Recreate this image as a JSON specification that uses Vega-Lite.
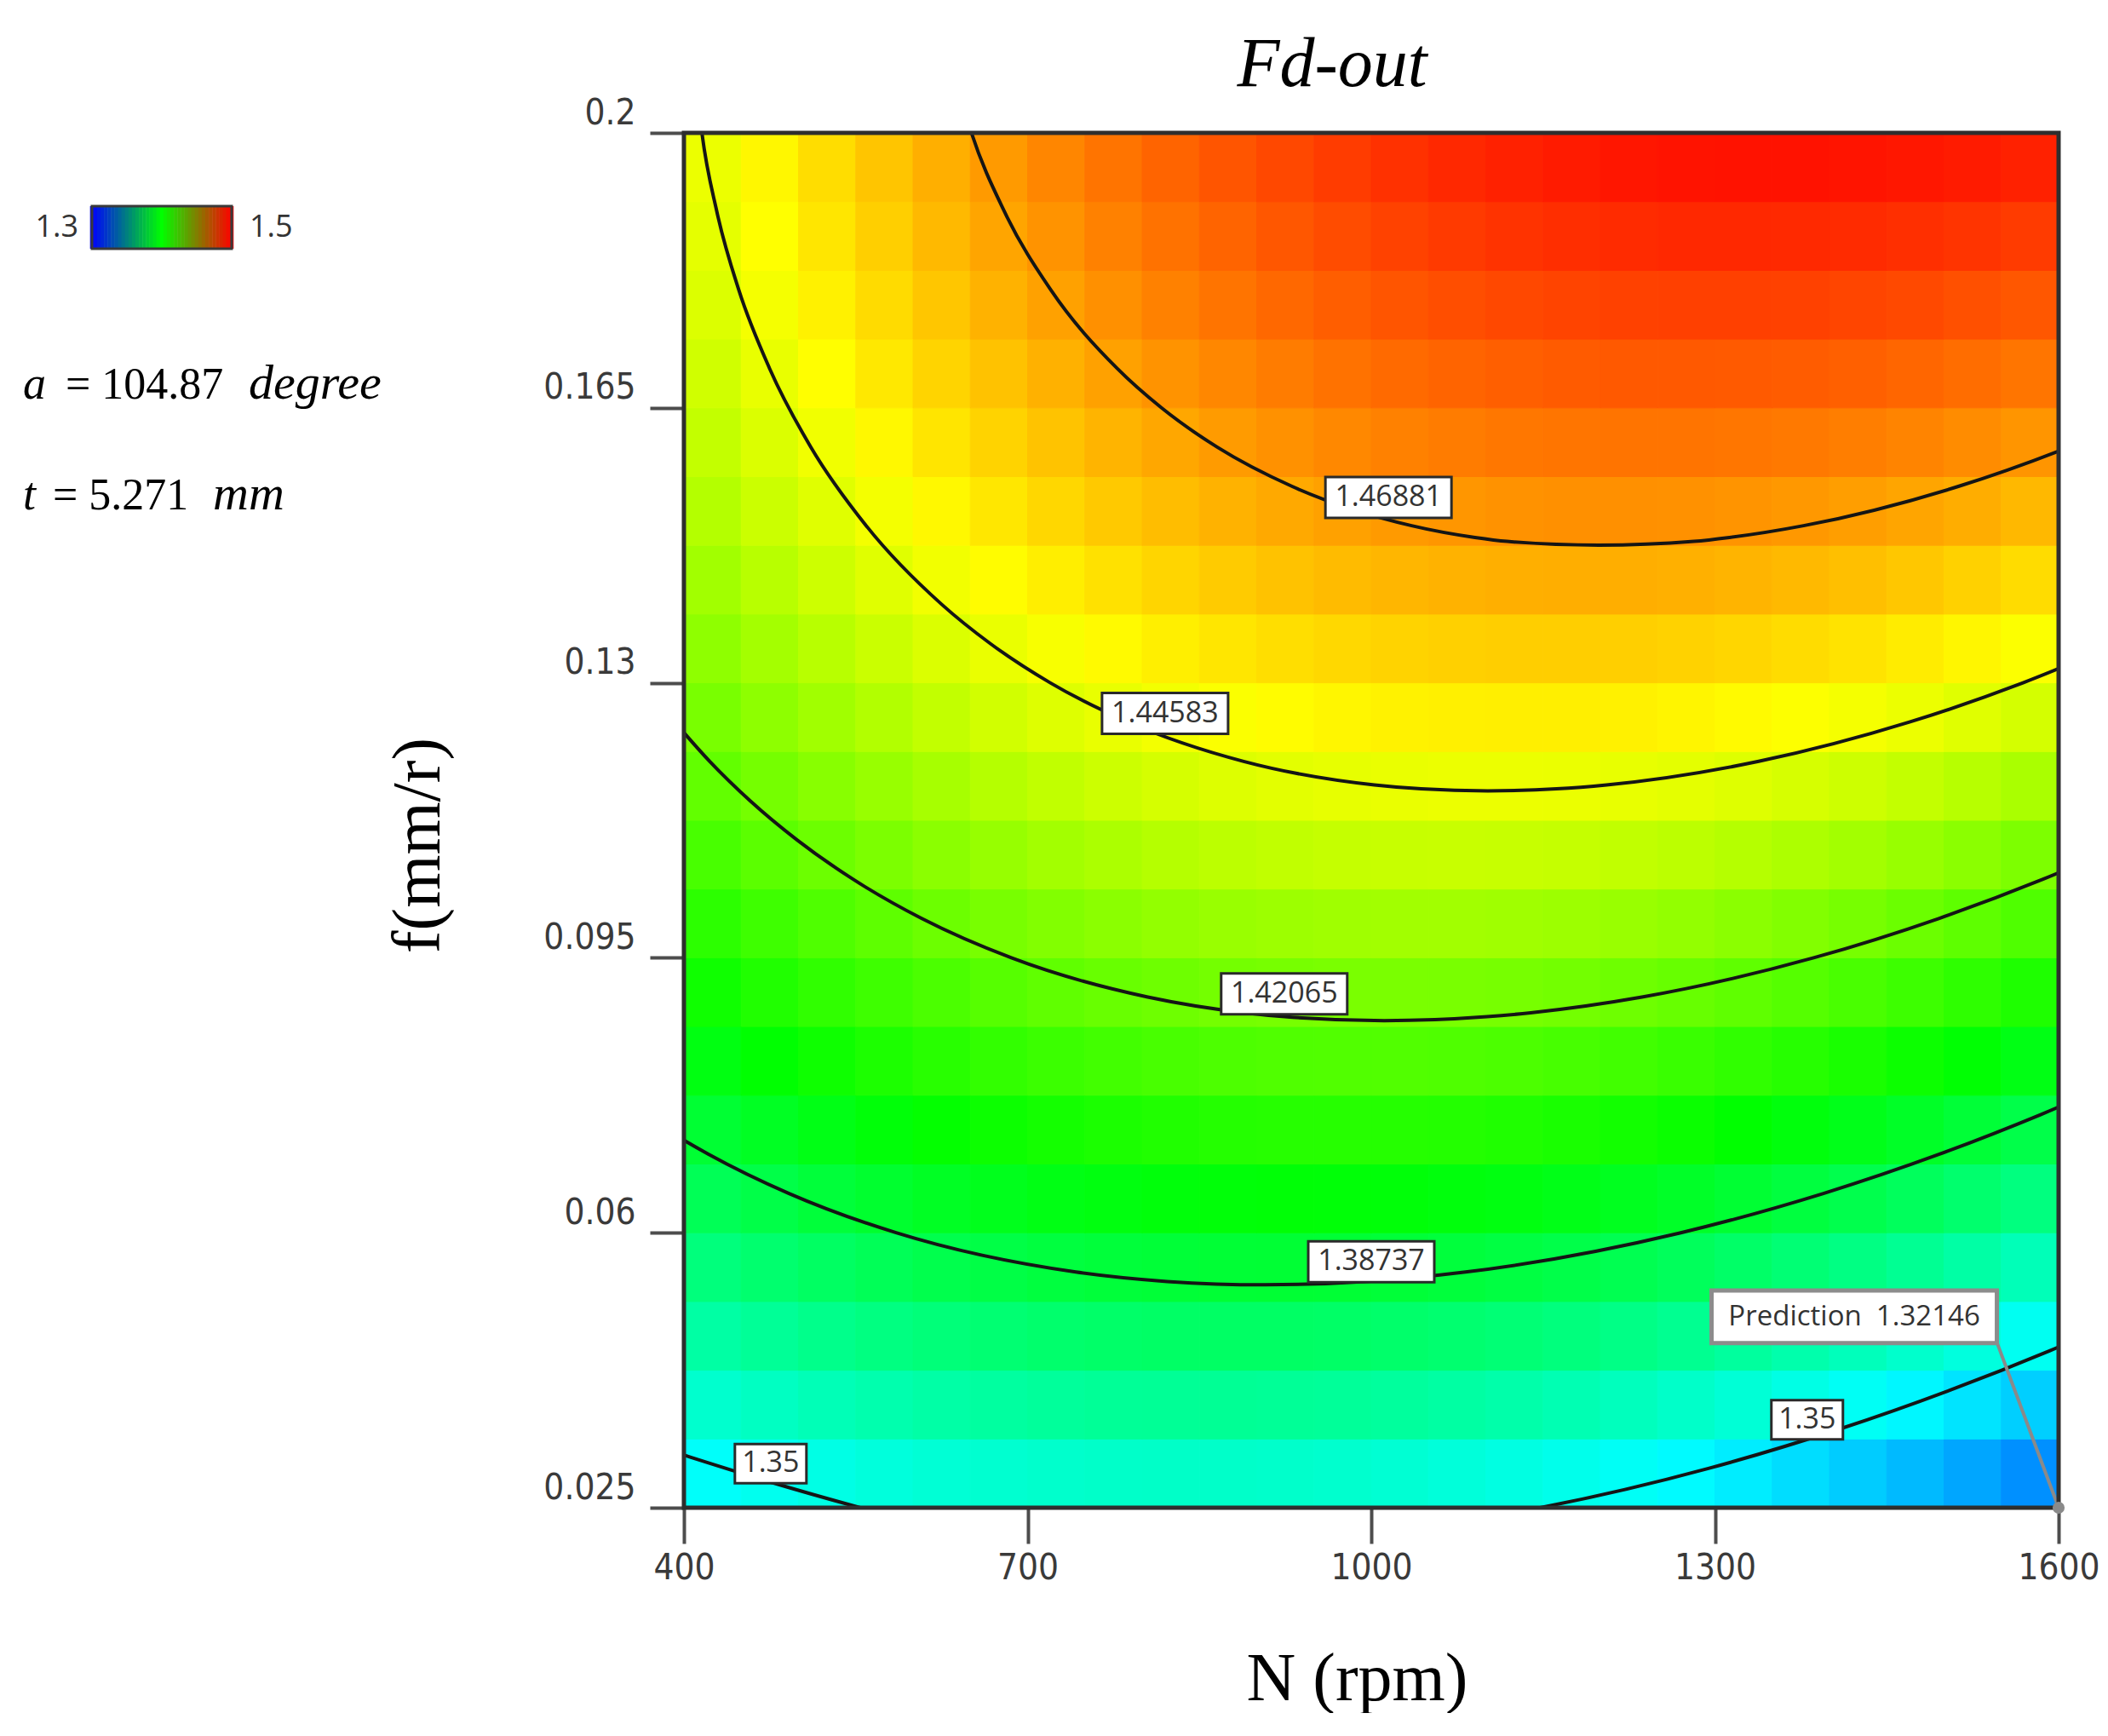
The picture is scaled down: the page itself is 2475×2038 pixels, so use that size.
{
  "$schema": "https://vega.github.io/schema/vega-lite/v6.json",
  "background": "white",
  "padding": {"left": 0, "top": 35, "right": 0, "bottom": 0},
  "bounds": "flush",
  "spacing": 333,
  "resolve": {"scale": {"x": "independent", "y": "independent", "color": "independent"}},
  "config": {"view": {"stroke": null}},
  "hconcat": [
    {
      "width": 470,
      "height": 500,
      "view": {"stroke": null},
      "layer": [
        {
          "data": {"values": [{"v":1.3},{"v":1.305},{"v":1.31},{"v":1.315},{"v":1.32},{"v":1.325},{"v":1.33},{"v":1.335},{"v":1.34},{"v":1.345},{"v":1.35},{"v":1.355},{"v":1.36},{"v":1.365},{"v":1.37},{"v":1.375},{"v":1.38},{"v":1.385},{"v":1.39},{"v":1.395},{"v":1.4},{"v":1.405},{"v":1.41},{"v":1.415},{"v":1.42},{"v":1.425},{"v":1.43},{"v":1.435},{"v":1.44},{"v":1.445},{"v":1.45},{"v":1.455},{"v":1.46},{"v":1.465},{"v":1.47},{"v":1.475},{"v":1.48},{"v":1.485},{"v":1.49},{"v":1.495},{"v":1.5}]},
          "mark": {"type": "rule", "strokeWidth": 4.6},
          "encoding": {
            "x": {"field": "v", "type": "quantitative", "scale": {"domain": [1.3, 1.5], "range": [108, 272], "zero": false, "nice": false}, "axis": null},
            "y": {"datum": 86, "type": "quantitative", "scale": {"domain": [0, 500], "reverse": true, "zero": false, "nice": false}, "axis": null},
            "y2": {"datum": 136},
            "color": {"field": "v", "type": "quantitative", "scale": {"domain": [1.3, 1.4, 1.5], "range": ["#0000ff", "#00ff00", "#ff0000"], "interpolate": "rgb"}, "legend": null}
          }
        },
        {
          "data": {"values": [{}]},
          "mark": {"type": "rect", "fill": "transparent", "stroke": "#3a3a3a", "strokeWidth": 3},
          "encoding": {"x": {"datum": 1.3}, "x2": {"datum": 1.5}, "y": {"datum": 86}, "y2": {"datum": 136}}
        },
        {
          "data": {"values": [{}]},
          "mark": {"type": "text", "font": "Open Sans", "fontSize": 36, "color": "#333333", "align": "right", "baseline": "middle"},
          "encoding": {"x": {"datum": 1.2805}, "y": {"datum": 111}, "text": {"value": "1.3"}}
        },
        {
          "data": {"values": [{}]},
          "mark": {"type": "text", "font": "Open Sans", "fontSize": 36, "color": "#333333", "align": "left", "baseline": "middle"},
          "encoding": {"x": {"datum": 1.5256}, "y": {"datum": 111}, "text": {"value": "1.5"}}
        },
        {
          "data": {"values": [{}]},
          "mark": {"type": "text", "font": "Liberation Serif", "fontSize": 54, "fontStyle": "italic", "color": "#000000", "align": "left", "baseline": "alphabetic"},
          "encoding": {"x": {"datum": 1.2012}, "y": {"datum": 312}, "text": {"value": "a"}}
        },
        {
          "data": {"values": [{}]},
          "mark": {"type": "text", "font": "Liberation Serif", "fontSize": 52, "color": "#000000", "align": "left", "baseline": "alphabetic"},
          "encoding": {"x": {"datum": 1.2622}, "y": {"datum": 312}, "text": {"value": "= 104.87"}}
        },
        {
          "data": {"values": [{}]},
          "mark": {"type": "text", "font": "Liberation Serif", "fontSize": 58, "fontStyle": "italic", "color": "#000000", "align": "left", "baseline": "alphabetic"},
          "encoding": {"x": {"datum": 1.5244}, "y": {"datum": 312}, "text": {"value": "degree"}}
        },
        {
          "data": {"values": [{}]},
          "mark": {"type": "text", "font": "Liberation Serif", "fontSize": 54, "fontStyle": "italic", "color": "#000000", "align": "left", "baseline": "alphabetic"},
          "encoding": {"x": {"datum": 1.2012}, "y": {"datum": 442}, "text": {"value": "t"}}
        },
        {
          "data": {"values": [{}]},
          "mark": {"type": "text", "font": "Liberation Serif", "fontSize": 52, "color": "#000000", "align": "left", "baseline": "alphabetic"},
          "encoding": {"x": {"datum": 1.2439}, "y": {"datum": 442}, "text": {"value": "= 5.271"}}
        },
        {
          "data": {"values": [{}]},
          "mark": {"type": "text", "font": "Liberation Serif", "fontSize": 58, "fontStyle": "italic", "color": "#000000", "align": "left", "baseline": "alphabetic"},
          "encoding": {"x": {"datum": 1.4732}, "y": {"datum": 442}, "text": {"value": "mm"}}
        }
      ]
    },
    {
      "width": 1614,
      "height": 1614,
      "view": {"stroke": null},
      "title": {"text": "Fd-out", "font": "Liberation Serif", "fontStyle": "italic", "fontWeight": "normal", "fontSize": 82, "color": "#000000", "anchor": "middle", "frame": "group", "baseline": "alphabetic", "offset": 12, "dx": -46, "dy": 84},
      "resolve": {"scale": {"x": "independent", "y": "independent"}},
      "layer": [
        {
          "data": {"values": [
{"N":425,"f":0.029375,"F":1.35095},{"N":475,"f":0.029375,"F":1.35321},{"N":525,"f":0.029375,"F":1.35518},{"N":575,"f":0.029375,"F":1.35685},{"N":625,"f":0.029375,"F":1.35822},{"N":675,"f":0.029375,"F":1.3593},{"N":725,"f":0.029375,"F":1.36008},{"N":775,"f":0.029375,"F":1.36057},{"N":825,"f":0.029375,"F":1.36077},{"N":875,"f":0.029375,"F":1.36067},{"N":925,"f":0.029375,"F":1.36027},{"N":975,"f":0.029375,"F":1.35958},{"N":1025,"f":0.029375,"F":1.35859},{"N":1075,"f":0.029375,"F":1.35731},{"N":1125,"f":0.029375,"F":1.35574},{"N":1175,"f":0.029375,"F":1.35387},{"N":1225,"f":0.029375,"F":1.3517},{"N":1275,"f":0.029375,"F":1.34924},{"N":1325,"f":0.029375,"F":1.34648},{"N":1375,"f":0.029375,"F":1.34343},{"N":1425,"f":0.029375,"F":1.34009},{"N":1475,"f":0.029375,"F":1.33645},{"N":1525,"f":0.029375,"F":1.33251},{"N":1575,"f":0.029375,"F":1.32828},
{"N":425,"f":0.038125,"F":1.35958},{"N":475,"f":0.038125,"F":1.362},{"N":525,"f":0.038125,"F":1.36412},{"N":575,"f":0.038125,"F":1.36595},{"N":625,"f":0.038125,"F":1.36748},{"N":675,"f":0.038125,"F":1.36872},{"N":725,"f":0.038125,"F":1.36967},{"N":775,"f":0.038125,"F":1.37031},{"N":825,"f":0.038125,"F":1.37067},{"N":875,"f":0.038125,"F":1.37073},{"N":925,"f":0.038125,"F":1.37049},{"N":975,"f":0.038125,"F":1.36996},{"N":1025,"f":0.038125,"F":1.36913},{"N":1075,"f":0.038125,"F":1.36801},{"N":1125,"f":0.038125,"F":1.3666},{"N":1175,"f":0.038125,"F":1.36489},{"N":1225,"f":0.038125,"F":1.36288},{"N":1275,"f":0.038125,"F":1.36058},{"N":1325,"f":0.038125,"F":1.35798},{"N":1375,"f":0.038125,"F":1.35509},{"N":1425,"f":0.038125,"F":1.35191},{"N":1475,"f":0.038125,"F":1.34843},{"N":1525,"f":0.038125,"F":1.34465},{"N":1575,"f":0.038125,"F":1.34058},
{"N":425,"f":0.046875,"F":1.36779},{"N":475,"f":0.046875,"F":1.37037},{"N":525,"f":0.046875,"F":1.37265},{"N":575,"f":0.046875,"F":1.37464},{"N":625,"f":0.046875,"F":1.37634},{"N":675,"f":0.046875,"F":1.37774},{"N":725,"f":0.046875,"F":1.37884},{"N":775,"f":0.046875,"F":1.37965},{"N":825,"f":0.046875,"F":1.38016},{"N":875,"f":0.046875,"F":1.38038},{"N":925,"f":0.046875,"F":1.38031},{"N":975,"f":0.046875,"F":1.37993},{"N":1025,"f":0.046875,"F":1.37927},{"N":1075,"f":0.046875,"F":1.37831},{"N":1125,"f":0.046875,"F":1.37705},{"N":1175,"f":0.046875,"F":1.3755},{"N":1225,"f":0.046875,"F":1.37365},{"N":1275,"f":0.046875,"F":1.37151},{"N":1325,"f":0.046875,"F":1.36908},{"N":1375,"f":0.046875,"F":1.36635},{"N":1425,"f":0.046875,"F":1.36332},{"N":1475,"f":0.046875,"F":1.36},{"N":1525,"f":0.046875,"F":1.35638},{"N":1575,"f":0.046875,"F":1.35247},
{"N":425,"f":0.055625,"F":1.37562},{"N":475,"f":0.055625,"F":1.37836},{"N":525,"f":0.055625,"F":1.3808},{"N":575,"f":0.055625,"F":1.38295},{"N":625,"f":0.055625,"F":1.38481},{"N":675,"f":0.055625,"F":1.38636},{"N":725,"f":0.055625,"F":1.38763},{"N":775,"f":0.055625,"F":1.3886},{"N":825,"f":0.055625,"F":1.38927},{"N":875,"f":0.055625,"F":1.38965},{"N":925,"f":0.055625,"F":1.38973},{"N":975,"f":0.055625,"F":1.38952},{"N":1025,"f":0.055625,"F":1.38902},{"N":1075,"f":0.055625,"F":1.38821},{"N":1125,"f":0.055625,"F":1.38712},{"N":1175,"f":0.055625,"F":1.38573},{"N":1225,"f":0.055625,"F":1.38404},{"N":1275,"f":0.055625,"F":1.38206},{"N":1325,"f":0.055625,"F":1.37978},{"N":1375,"f":0.055625,"F":1.37721},{"N":1425,"f":0.055625,"F":1.37435},{"N":1475,"f":0.055625,"F":1.37119},{"N":1525,"f":0.055625,"F":1.36773},{"N":1575,"f":0.055625,"F":1.36398},
{"N":425,"f":0.064375,"F":1.38304},{"N":475,"f":0.064375,"F":1.38594},{"N":525,"f":0.064375,"F":1.38854},{"N":575,"f":0.064375,"F":1.39085},{"N":625,"f":0.064375,"F":1.39286},{"N":675,"f":0.064375,"F":1.39458},{"N":725,"f":0.064375,"F":1.396},{"N":775,"f":0.064375,"F":1.39713},{"N":825,"f":0.064375,"F":1.39796},{"N":875,"f":0.064375,"F":1.3985},{"N":925,"f":0.064375,"F":1.39875},{"N":975,"f":0.064375,"F":1.39869},{"N":1025,"f":0.064375,"F":1.39835},{"N":1075,"f":0.064375,"F":1.3977},{"N":1125,"f":0.064375,"F":1.39677},{"N":1175,"f":0.064375,"F":1.39554},{"N":1225,"f":0.064375,"F":1.39401},{"N":1275,"f":0.064375,"F":1.39219},{"N":1325,"f":0.064375,"F":1.39007},{"N":1375,"f":0.064375,"F":1.38766},{"N":1425,"f":0.064375,"F":1.38495},{"N":1475,"f":0.064375,"F":1.38195},{"N":1525,"f":0.064375,"F":1.37865},{"N":1575,"f":0.064375,"F":1.37506},
{"N":425,"f":0.073125,"F":1.39007},{"N":475,"f":0.073125,"F":1.39312},{"N":525,"f":0.073125,"F":1.39589},{"N":575,"f":0.073125,"F":1.39835},{"N":625,"f":0.073125,"F":1.40053},{"N":675,"f":0.073125,"F":1.40241},{"N":725,"f":0.073125,"F":1.40399},{"N":775,"f":0.073125,"F":1.40528},{"N":825,"f":0.073125,"F":1.40627},{"N":875,"f":0.073125,"F":1.40697},{"N":925,"f":0.073125,"F":1.40737},{"N":975,"f":0.073125,"F":1.40748},{"N":1025,"f":0.073125,"F":1.40729},{"N":1075,"f":0.073125,"F":1.40681},{"N":1125,"f":0.073125,"F":1.40603},{"N":1175,"f":0.073125,"F":1.40496},{"N":1225,"f":0.073125,"F":1.40359},{"N":1275,"f":0.073125,"F":1.40193},{"N":1325,"f":0.073125,"F":1.39997},{"N":1375,"f":0.073125,"F":1.39772},{"N":1425,"f":0.073125,"F":1.39517},{"N":1475,"f":0.073125,"F":1.39233},{"N":1525,"f":0.073125,"F":1.3892},{"N":1575,"f":0.073125,"F":1.38576},
{"N":425,"f":0.081875,"F":1.39668},{"N":475,"f":0.081875,"F":1.3999},{"N":525,"f":0.081875,"F":1.40283},{"N":575,"f":0.081875,"F":1.40545},{"N":625,"f":0.081875,"F":1.40779},{"N":675,"f":0.081875,"F":1.40982},{"N":725,"f":0.081875,"F":1.41157},{"N":775,"f":0.081875,"F":1.41301},{"N":825,"f":0.081875,"F":1.41417},{"N":875,"f":0.081875,"F":1.41503},{"N":925,"f":0.081875,"F":1.41559},{"N":975,"f":0.081875,"F":1.41586},{"N":1025,"f":0.081875,"F":1.41583},{"N":1075,"f":0.081875,"F":1.41551},{"N":1125,"f":0.081875,"F":1.41489},{"N":1175,"f":0.081875,"F":1.41398},{"N":1225,"f":0.081875,"F":1.41277},{"N":1275,"f":0.081875,"F":1.41127},{"N":1325,"f":0.081875,"F":1.40947},{"N":1375,"f":0.081875,"F":1.40738},{"N":1425,"f":0.081875,"F":1.40499},{"N":1475,"f":0.081875,"F":1.40231},{"N":1525,"f":0.081875,"F":1.39933},{"N":1575,"f":0.081875,"F":1.39606},
{"N":425,"f":0.090625,"F":1.4029},{"N":475,"f":0.090625,"F":1.40627},{"N":525,"f":0.090625,"F":1.40936},{"N":575,"f":0.090625,"F":1.41215},{"N":625,"f":0.090625,"F":1.41464},{"N":675,"f":0.090625,"F":1.41684},{"N":725,"f":0.090625,"F":1.41874},{"N":775,"f":0.090625,"F":1.42035},{"N":825,"f":0.090625,"F":1.42166},{"N":875,"f":0.090625,"F":1.42268},{"N":925,"f":0.090625,"F":1.4234},{"N":975,"f":0.090625,"F":1.42383},{"N":1025,"f":0.090625,"F":1.42396},{"N":1075,"f":0.090625,"F":1.4238},{"N":1125,"f":0.090625,"F":1.42334},{"N":1175,"f":0.090625,"F":1.42259},{"N":1225,"f":0.090625,"F":1.42154},{"N":1275,"f":0.090625,"F":1.4202},{"N":1325,"f":0.090625,"F":1.41856},{"N":1375,"f":0.090625,"F":1.41663},{"N":1425,"f":0.090625,"F":1.4144},{"N":1475,"f":0.090625,"F":1.41188},{"N":1525,"f":0.090625,"F":1.40906},{"N":1575,"f":0.090625,"F":1.40595},
{"N":425,"f":0.099375,"F":1.40871},{"N":475,"f":0.099375,"F":1.41225},{"N":525,"f":0.099375,"F":1.41549},{"N":575,"f":0.099375,"F":1.41844},{"N":625,"f":0.099375,"F":1.42109},{"N":675,"f":0.099375,"F":1.42345},{"N":725,"f":0.099375,"F":1.42551},{"N":775,"f":0.099375,"F":1.42728},{"N":825,"f":0.099375,"F":1.42875},{"N":875,"f":0.099375,"F":1.42993},{"N":925,"f":0.099375,"F":1.43081},{"N":975,"f":0.099375,"F":1.4314},{"N":1025,"f":0.099375,"F":1.43169},{"N":1075,"f":0.099375,"F":1.43169},{"N":1125,"f":0.099375,"F":1.4314},{"N":1175,"f":0.099375,"F":1.4308},{"N":1225,"f":0.099375,"F":1.42992},{"N":1275,"f":0.099375,"F":1.42873},{"N":1325,"f":0.099375,"F":1.42726},{"N":1375,"f":0.099375,"F":1.42548},{"N":1425,"f":0.099375,"F":1.42342},{"N":1475,"f":0.099375,"F":1.42105},{"N":1525,"f":0.099375,"F":1.4184},{"N":1575,"f":0.099375,"F":1.41544},
{"N":425,"f":0.108125,"F":1.41414},{"N":475,"f":0.108125,"F":1.41784},{"N":525,"f":0.108125,"F":1.42124},{"N":575,"f":0.108125,"F":1.42435},{"N":625,"f":0.108125,"F":1.42716},{"N":675,"f":0.108125,"F":1.42967},{"N":725,"f":0.108125,"F":1.4319},{"N":775,"f":0.108125,"F":1.43382},{"N":825,"f":0.108125,"F":1.43546},{"N":875,"f":0.108125,"F":1.43679},{"N":925,"f":0.108125,"F":1.43783},{"N":975,"f":0.108125,"F":1.43858},{"N":1025,"f":0.108125,"F":1.43903},{"N":1075,"f":0.108125,"F":1.43919},{"N":1125,"f":0.108125,"F":1.43905},{"N":1175,"f":0.108125,"F":1.43862},{"N":1225,"f":0.108125,"F":1.43789},{"N":1275,"f":0.108125,"F":1.43687},{"N":1325,"f":0.108125,"F":1.43555},{"N":1375,"f":0.108125,"F":1.43394},{"N":1425,"f":0.108125,"F":1.43203},{"N":1475,"f":0.108125,"F":1.42983},{"N":1525,"f":0.108125,"F":1.42733},{"N":1575,"f":0.108125,"F":1.42453},
{"N":425,"f":0.116875,"F":1.41916},{"N":475,"f":0.116875,"F":1.42302},{"N":525,"f":0.116875,"F":1.42658},{"N":575,"f":0.116875,"F":1.42985},{"N":625,"f":0.116875,"F":1.43282},{"N":675,"f":0.116875,"F":1.4355},{"N":725,"f":0.116875,"F":1.43788},{"N":775,"f":0.116875,"F":1.43997},{"N":825,"f":0.116875,"F":1.44176},{"N":875,"f":0.116875,"F":1.44325},{"N":925,"f":0.116875,"F":1.44446},{"N":975,"f":0.116875,"F":1.44536},{"N":1025,"f":0.116875,"F":1.44598},{"N":1075,"f":0.116875,"F":1.44629},{"N":1125,"f":0.116875,"F":1.44631},{"N":1175,"f":0.116875,"F":1.44604},{"N":1225,"f":0.116875,"F":1.44547},{"N":1275,"f":0.116875,"F":1.44461},{"N":1325,"f":0.116875,"F":1.44345},{"N":1375,"f":0.116875,"F":1.442},{"N":1425,"f":0.116875,"F":1.44025},{"N":1475,"f":0.116875,"F":1.43821},{"N":1525,"f":0.116875,"F":1.43587},{"N":1575,"f":0.116875,"F":1.43324},
{"N":425,"f":0.125625,"F":1.42378},{"N":475,"f":0.125625,"F":1.4278},{"N":525,"f":0.125625,"F":1.43152},{"N":575,"f":0.125625,"F":1.43494},{"N":625,"f":0.125625,"F":1.43808},{"N":675,"f":0.125625,"F":1.44091},{"N":725,"f":0.125625,"F":1.44345},{"N":775,"f":0.125625,"F":1.4457},{"N":825,"f":0.125625,"F":1.44765},{"N":875,"f":0.125625,"F":1.44931},{"N":925,"f":0.125625,"F":1.45067},{"N":975,"f":0.125625,"F":1.45174},{"N":1025,"f":0.125625,"F":1.45251},{"N":1075,"f":0.125625,"F":1.45299},{"N":1125,"f":0.125625,"F":1.45317},{"N":1175,"f":0.125625,"F":1.45306},{"N":1225,"f":0.125625,"F":1.45265},{"N":1275,"f":0.125625,"F":1.45194},{"N":1325,"f":0.125625,"F":1.45095},{"N":1375,"f":0.125625,"F":1.44965},{"N":1425,"f":0.125625,"F":1.44806},{"N":1475,"f":0.125625,"F":1.44618},{"N":1525,"f":0.125625,"F":1.444},{"N":1575,"f":0.125625,"F":1.44153},
{"N":425,"f":0.134375,"F":1.42799},{"N":475,"f":0.134375,"F":1.43217},{"N":525,"f":0.134375,"F":1.43605},{"N":575,"f":0.134375,"F":1.43963},{"N":625,"f":0.134375,"F":1.44293},{"N":675,"f":0.134375,"F":1.44592},{"N":725,"f":0.134375,"F":1.44862},{"N":775,"f":0.134375,"F":1.45103},{"N":825,"f":0.134375,"F":1.45314},{"N":875,"f":0.134375,"F":1.45496},{"N":925,"f":0.134375,"F":1.45648},{"N":975,"f":0.134375,"F":1.45771},{"N":1025,"f":0.134375,"F":1.45864},{"N":1075,"f":0.134375,"F":1.45928},{"N":1125,"f":0.134375,"F":1.45962},{"N":1175,"f":0.134375,"F":1.45966},{"N":1225,"f":0.134375,"F":1.45941},{"N":1275,"f":0.134375,"F":1.45887},{"N":1325,"f":0.134375,"F":1.45803},{"N":1375,"f":0.134375,"F":1.4569},{"N":1425,"f":0.134375,"F":1.45547},{"N":1475,"f":0.134375,"F":1.45375},{"N":1525,"f":0.134375,"F":1.45173},{"N":1575,"f":0.134375,"F":1.44942},
{"N":425,"f":0.143125,"F":1.4318},{"N":475,"f":0.143125,"F":1.43614},{"N":525,"f":0.143125,"F":1.44018},{"N":575,"f":0.143125,"F":1.44393},{"N":625,"f":0.143125,"F":1.44738},{"N":675,"f":0.143125,"F":1.45053},{"N":725,"f":0.143125,"F":1.4534},{"N":775,"f":0.143125,"F":1.45596},{"N":825,"f":0.143125,"F":1.45823},{"N":875,"f":0.143125,"F":1.46021},{"N":925,"f":0.143125,"F":1.46189},{"N":975,"f":0.143125,"F":1.46328},{"N":1025,"f":0.143125,"F":1.46437},{"N":1075,"f":0.143125,"F":1.46517},{"N":1125,"f":0.143125,"F":1.46567},{"N":1175,"f":0.143125,"F":1.46587},{"N":1225,"f":0.143125,"F":1.46579},{"N":1275,"f":0.143125,"F":1.4654},{"N":1325,"f":0.143125,"F":1.46472},{"N":1375,"f":0.143125,"F":1.46375},{"N":1425,"f":0.143125,"F":1.46248},{"N":1475,"f":0.143125,"F":1.46092},{"N":1525,"f":0.143125,"F":1.45906},{"N":1575,"f":0.143125,"F":1.45691},
{"N":425,"f":0.151875,"F":1.43522},{"N":475,"f":0.151875,"F":1.43971},{"N":525,"f":0.151875,"F":1.44392},{"N":575,"f":0.151875,"F":1.44782},{"N":625,"f":0.151875,"F":1.45143},{"N":675,"f":0.151875,"F":1.45475},{"N":725,"f":0.151875,"F":1.45777},{"N":775,"f":0.151875,"F":1.4605},{"N":825,"f":0.151875,"F":1.46293},{"N":875,"f":0.151875,"F":1.46507},{"N":925,"f":0.151875,"F":1.46691},{"N":975,"f":0.151875,"F":1.46845},{"N":1025,"f":0.151875,"F":1.46971},{"N":1075,"f":0.151875,"F":1.47066},{"N":1125,"f":0.151875,"F":1.47132},{"N":1175,"f":0.151875,"F":1.47169},{"N":1225,"f":0.151875,"F":1.47176},{"N":1275,"f":0.151875,"F":1.47154},{"N":1325,"f":0.151875,"F":1.47102},{"N":1375,"f":0.151875,"F":1.4702},{"N":1425,"f":0.151875,"F":1.4691},{"N":1475,"f":0.151875,"F":1.46769},{"N":1525,"f":0.151875,"F":1.46599},{"N":1575,"f":0.151875,"F":1.464},
{"N":425,"f":0.160625,"F":1.43825},{"N":475,"f":0.160625,"F":1.4429},{"N":525,"f":0.160625,"F":1.44726},{"N":575,"f":0.160625,"F":1.45133},{"N":625,"f":0.160625,"F":1.4551},{"N":675,"f":0.160625,"F":1.45858},{"N":725,"f":0.160625,"F":1.46176},{"N":775,"f":0.160625,"F":1.46464},{"N":825,"f":0.160625,"F":1.46723},{"N":875,"f":0.160625,"F":1.46953},{"N":925,"f":0.160625,"F":1.47153},{"N":975,"f":0.160625,"F":1.47324},{"N":1025,"f":0.160625,"F":1.47465},{"N":1075,"f":0.160625,"F":1.47576},{"N":1125,"f":0.160625,"F":1.47658},{"N":1175,"f":0.160625,"F":1.47711},{"N":1225,"f":0.160625,"F":1.47734},{"N":1275,"f":0.160625,"F":1.47727},{"N":1325,"f":0.160625,"F":1.47692},{"N":1375,"f":0.160625,"F":1.47626},{"N":1425,"f":0.160625,"F":1.47531},{"N":1475,"f":0.160625,"F":1.47407},{"N":1525,"f":0.160625,"F":1.47253},{"N":1575,"f":0.160625,"F":1.47069},
{"N":425,"f":0.169375,"F":1.44086},{"N":475,"f":0.169375,"F":1.44562},{"N":525,"f":0.169375,"F":1.4502},{"N":575,"f":0.169375,"F":1.45442},{"N":625,"f":0.169375,"F":1.45835},{"N":675,"f":0.169375,"F":1.46199},{"N":725,"f":0.169375,"F":1.46533},{"N":775,"f":0.169375,"F":1.46838},{"N":825,"f":0.169375,"F":1.47113},{"N":875,"f":0.169375,"F":1.47358},{"N":925,"f":0.169375,"F":1.47574},{"N":975,"f":0.169375,"F":1.47761},{"N":1025,"f":0.169375,"F":1.47918},{"N":1075,"f":0.169375,"F":1.48045},{"N":1125,"f":0.169375,"F":1.48143},{"N":1175,"f":0.169375,"F":1.48212},{"N":1225,"f":0.169375,"F":1.48251},{"N":1275,"f":0.169375,"F":1.48261},{"N":1325,"f":0.169375,"F":1.48241},{"N":1375,"f":0.169375,"F":1.48191},{"N":1425,"f":0.169375,"F":1.48112},{"N":1475,"f":0.169375,"F":1.48004},{"N":1525,"f":0.169375,"F":1.47866},{"N":1575,"f":0.169375,"F":1.47698},
{"N":425,"f":0.178125,"F":1.44307},{"N":475,"f":0.178125,"F":1.44804},{"N":525,"f":0.178125,"F":1.45272},{"N":575,"f":0.178125,"F":1.45711},{"N":625,"f":0.178125,"F":1.4612},{"N":675,"f":0.178125,"F":1.465},{"N":725,"f":0.178125,"F":1.4685},{"N":775,"f":0.178125,"F":1.4717},{"N":825,"f":0.178125,"F":1.47461},{"N":875,"f":0.178125,"F":1.47723},{"N":925,"f":0.178125,"F":1.47955},{"N":975,"f":0.178125,"F":1.48157},{"N":1025,"f":0.178125,"F":1.4833},{"N":1075,"f":0.178125,"F":1.48474},{"N":1125,"f":0.178125,"F":1.48588},{"N":1175,"f":0.178125,"F":1.48672},{"N":1225,"f":0.178125,"F":1.48728},{"N":1275,"f":0.178125,"F":1.48753},{"N":1325,"f":0.178125,"F":1.48749},{"N":1375,"f":0.178125,"F":1.48716},{"N":1425,"f":0.178125,"F":1.48653},{"N":1475,"f":0.178125,"F":1.4856},{"N":1525,"f":0.178125,"F":1.48438},{"N":1575,"f":0.178125,"F":1.48287},
{"N":425,"f":0.186875,"F":1.44489},{"N":475,"f":0.186875,"F":1.45002},{"N":525,"f":0.186875,"F":1.45486},{"N":575,"f":0.186875,"F":1.45941},{"N":625,"f":0.186875,"F":1.46366},{"N":675,"f":0.186875,"F":1.46761},{"N":725,"f":0.186875,"F":1.47127},{"N":775,"f":0.186875,"F":1.47464},{"N":825,"f":0.186875,"F":1.47771},{"N":875,"f":0.186875,"F":1.48049},{"N":925,"f":0.186875,"F":1.48297},{"N":975,"f":0.186875,"F":1.48515},{"N":1025,"f":0.186875,"F":1.48704},{"N":1075,"f":0.186875,"F":1.48864},{"N":1125,"f":0.186875,"F":1.48994},{"N":1175,"f":0.186875,"F":1.49094},{"N":1225,"f":0.186875,"F":1.49165},{"N":1275,"f":0.186875,"F":1.49207},{"N":1325,"f":0.186875,"F":1.49219},{"N":1375,"f":0.186875,"F":1.49201},{"N":1425,"f":0.186875,"F":1.49154},{"N":1475,"f":0.186875,"F":1.49078},{"N":1525,"f":0.186875,"F":1.48972},{"N":1575,"f":0.186875,"F":1.48837},
{"N":425,"f":0.195625,"F":1.4463},{"N":475,"f":0.195625,"F":1.4516},{"N":525,"f":0.195625,"F":1.4566},{"N":575,"f":0.195625,"F":1.4613},{"N":625,"f":0.195625,"F":1.46571},{"N":675,"f":0.195625,"F":1.46983},{"N":725,"f":0.195625,"F":1.47365},{"N":775,"f":0.195625,"F":1.47717},{"N":825,"f":0.195625,"F":1.4804},{"N":875,"f":0.195625,"F":1.48334},{"N":925,"f":0.195625,"F":1.48598},{"N":975,"f":0.195625,"F":1.48832},{"N":1025,"f":0.195625,"F":1.49037},{"N":1075,"f":0.195625,"F":1.49213},{"N":1125,"f":0.195625,"F":1.49359},{"N":1175,"f":0.195625,"F":1.49475},{"N":1225,"f":0.195625,"F":1.49562},{"N":1275,"f":0.195625,"F":1.4962},{"N":1325,"f":0.195625,"F":1.49648},{"N":1375,"f":0.195625,"F":1.49646},{"N":1425,"f":0.195625,"F":1.49616},{"N":1475,"f":0.195625,"F":1.49555},{"N":1525,"f":0.195625,"F":1.49465},{"N":1575,"f":0.195625,"F":1.49346}
          ]},
          "mark": {"type": "rect", "strokeWidth": 1},
          "encoding": {
            "x": {"field": "N", "type": "ordinal", "scale": {"paddingInner": 0, "paddingOuter": 0}, "axis": null},
            "y": {"field": "f", "type": "ordinal", "sort": "descending", "scale": {"paddingInner": 0, "paddingOuter": 0}, "axis": null},
            "color": {"field": "F", "type": "quantitative", "scale": {"domain": [1.3, 1.35, 1.4, 1.45, 1.5], "range": ["#0000ff", "#00ffff", "#00ff00", "#ffff00", "#ff0000"], "interpolate": "rgb"}, "legend": null},
            "stroke": {"field": "F", "type": "quantitative", "scale": {"domain": [1.3, 1.35, 1.4, 1.45, 1.5], "range": ["#0000ff", "#00ffff", "#00ff00", "#ffff00", "#ff0000"], "interpolate": "rgb"}, "legend": null}
          }
        },
        {
          "layer": [
            {
              "data": {"values": [
{"c":"1.46881","N":631.6,"f":0.21},{"c":"1.46881","N":651.0,"f":0.2},{"c":"1.46881","N":679.7,"f":0.19},{"c":"1.46881","N":720.3,"f":0.18},{"c":"1.46881","N":778.3,"f":0.17},{"c":"1.46881","N":816.9,"f":0.165},{"c":"1.46881","N":865.5,"f":0.16},{"c":"1.46881","N":930.9,"f":0.155},{"c":"1.46881","N":1035.2,"f":0.15},{"c":"1.46881","N":1090.5,"f":0.1485},{"c":"1.46881","N":1118.5,"f":0.148},{"c":"1.46881","N":1198.6,"f":0.14752},{"c":"1.46881","N":1281.7,"f":0.148},{"c":"1.46881","N":1312.7,"f":0.1485},{"c":"1.46881","N":1377.4,"f":0.15},{"c":"1.46881","N":1512.5,"f":0.155},{"c":"1.46881","N":1608.9,"f":0.16},{"c":"1.46881","N":1688.5,"f":0.165},
{"c":"1.44583","N":408.3,"f":0.21},{"c":"1.44583","N":415.7,"f":0.2},{"c":"1.44583","N":428.7,"f":0.19},{"c":"1.44583","N":447.9,"f":0.18},{"c":"1.44583","N":474.8,"f":0.17},{"c":"1.44583","N":510.8,"f":0.16},{"c":"1.44583","N":559.1,"f":0.15},{"c":"1.44583","N":624.9,"f":0.14},{"c":"1.44583","N":667.4,"f":0.135},{"c":"1.44583","N":719.8,"f":0.13},{"c":"1.44583","N":788.0,"f":0.125},{"c":"1.44583","N":888.6,"f":0.12},{"c":"1.44583","N":1002.8,"f":0.117},{"c":"1.44583","N":1043.5,"f":0.1165},{"c":"1.44583","N":1101.8,"f":0.11625},{"c":"1.44583","N":1161.7,"f":0.1165},{"c":"1.44583","N":1205.4,"f":0.117},{"c":"1.44583","N":1338.2,"f":0.12},{"c":"1.44583","N":1469.8,"f":0.125},{"c":"1.44583","N":1568.9,"f":0.13},{"c":"1.44583","N":1652.2,"f":0.135},
{"c":"1.42065","N":392.0,"f":0.125},{"c":"1.42065","N":422.5,"f":0.12},{"c":"1.42065","N":457.7,"f":0.115},{"c":"1.42065","N":498.8,"f":0.11},{"c":"1.42065","N":547.6,"f":0.105},{"c":"1.42065","N":607.6,"f":0.1},{"c":"1.42065","N":685.8,"f":0.095},{"c":"1.42065","N":804.9,"f":0.09},{"c":"1.42065","N":889.6,"f":0.088},{"c":"1.42065","N":924.5,"f":0.0875},{"c":"1.42065","N":1011.3,"f":0.087},{"c":"1.42065","N":1101.1,"f":0.0875},{"c":"1.42065","N":1139.2,"f":0.088},{"c":"1.42065","N":1236.3,"f":0.09},{"c":"1.42065","N":1386.2,"f":0.095},{"c":"1.42065","N":1495.4,"f":0.1},{"c":"1.42065","N":1586.4,"f":0.105},{"c":"1.42065","N":1666.1,"f":0.11},
{"c":"1.38737","N":316.5,"f":0.08},{"c":"1.38737","N":364.4,"f":0.075},{"c":"1.38737","N":421.4,"f":0.07},{"c":"1.38737","N":491.7,"f":0.065},{"c":"1.38737","N":585.2,"f":0.06},{"c":"1.38737","N":742.0,"f":0.055},{"c":"1.38737","N":821.8,"f":0.0538},{"c":"1.38737","N":907.2,"f":0.05338},{"c":"1.38737","N":995.2,"f":0.0538},{"c":"1.38737","N":1082.4,"f":0.055},{"c":"1.38737","N":1270.2,"f":0.06},{"c":"1.38737","N":1394.7,"f":0.065},{"c":"1.38737","N":1496.0,"f":0.07},{"c":"1.38737","N":1583.8,"f":0.075},{"c":"1.38737","N":1662.7,"f":0.08},
{"c":"1.35 left","N":370,"f":0.0331},{"c":"1.35 left","N":400,"f":0.0317},{"c":"1.35 left","N":477,"f":0.0282},{"c":"1.35 left","N":554,"f":0.025},{"c":"1.35 left","N":600,"f":0.0232},
{"c":"1.35 right","N":1017.8,"f":0.022},{"c":"1.35 right","N":1147.4,"f":0.025},{"c":"1.35 right","N":1294.3,"f":0.03},{"c":"1.35 right","N":1408.5,"f":0.035},{"c":"1.35 right","N":1505.9,"f":0.04},{"c":"1.35 right","N":1592.5,"f":0.045},{"c":"1.35 right","N":1671.3,"f":0.05}
              ]},
              "mark": {"type": "line", "clip": true, "interpolate": "monotone", "color": "#151515", "strokeWidth": 4},
              "encoding": {
                "x": {"field": "N", "type": "quantitative", "scale": {"domain": [400, 1600], "zero": false, "nice": false},
                  "axis": {"values": [400, 700, 1000, 1300, 1600], "format": "d", "title": "N (rpm)", "domain": false, "grid": false, "tickSize": 42, "tickWidth": 4, "tickColor": "#4d4d4d", "labelFont": "Liberation Sans Narrow, DejaVu Sans Condensed, sans-serif", "labelFontSize": 42, "labelColor": "#3a3a3a", "labelPadding": 8, "labelFlush": false, "labelOverlap": false, "titleFont": "Liberation Serif", "titleFontSize": 80, "titleFontWeight": "normal", "titleColor": "#000000", "titleX": 790, "titleY": 225, "titleAlign": "center", "titleBaseline": "alphabetic"}},
                "y": {"field": "f", "type": "quantitative", "scale": {"domain": [0.025, 0.2], "zero": false, "nice": false},
                  "axis": {"values": [0.025, 0.06, 0.095, 0.13, 0.165, 0.2], "format": "~g", "title": "f(mm/r)", "domain": false, "grid": false, "tickSize": 40, "tickWidth": 4, "tickColor": "#4d4d4d", "labelFont": "Liberation Sans Narrow, DejaVu Sans Condensed, sans-serif", "labelFontSize": 42, "labelColor": "#3a3a3a", "labelPadding": 17, "labelBaseline": "alphabetic", "labelOffset": -11, "labelFlush": false, "labelOverlap": false, "titleFont": "Liberation Serif", "titleFontSize": 80, "titleFontWeight": "normal", "titleColor": "#000000", "titleX": -288, "titleY": 836, "titleAngle": 270, "titleAlign": "center", "titleBaseline": "alphabetic"}},
                "detail": {"field": "c", "type": "nominal"}
              }
            },
            {
              "data": {"values": [{"N": 1546, "f": 0.0461}, {"N": 1600, "f": 0.025}]},
              "mark": {"type": "line", "color": "#8a8a8a", "strokeWidth": 4},
              "encoding": {"x": {"field": "N", "type": "quantitative"}, "y": {"field": "f", "type": "quantitative"}}
            },
            {
              "data": {"values": [{"N": 1015, "f": 0.1536, "label": "1.46881"}, {"N": 820, "f": 0.1261, "label": "1.44583"}, {"N": 924, "f": 0.0904, "label": "1.42065"}, {"N": 1000, "f": 0.0563, "label": "1.38737"}]},
              "layer": [
                {"mark": {"type": "point", "shape": "M-1,-0.3243L1,-0.3243L1,0.3243L-1,0.3243Z", "size": 21904, "filled": true, "fill": "white", "stroke": "#2a2a2a", "strokeWidth": 3, "opacity": 1},
                 "encoding": {"x": {"field": "N", "type": "quantitative"}, "y": {"field": "f", "type": "quantitative"}}},
                {"mark": {"type": "text", "font": "Open Sans", "fontSize": 34, "color": "#333333", "align": "center", "baseline": "middle"},
                 "encoding": {"x": {"field": "N", "type": "quantitative"}, "y": {"field": "f", "type": "quantitative"}, "text": {"field": "label"}}}
              ]
            },
            {
              "data": {"values": [{"N": 475.7, "f": 0.0306, "label": "1.35"}, {"N": 1380.5, "f": 0.0362, "label": "1.35"}]},
              "layer": [
                {"mark": {"type": "point", "shape": "M-1,-0.5476L1,-0.5476L1,0.5476L-1,0.5476Z", "size": 7056, "filled": true, "fill": "white", "stroke": "#2a2a2a", "strokeWidth": 3, "opacity": 1},
                 "encoding": {"x": {"field": "N", "type": "quantitative"}, "y": {"field": "f", "type": "quantitative"}}},
                {"mark": {"type": "text", "font": "Open Sans", "fontSize": 34, "color": "#333333", "align": "center", "baseline": "middle"},
                 "encoding": {"x": {"field": "N", "type": "quantitative"}, "y": {"field": "f", "type": "quantitative"}, "text": {"field": "label"}}}
              ]
            },
            {
              "data": {"values": [{"N": 1421.6, "f": 0.0493, "label": "Prediction\u00a0\u00a01.32146"}]},
              "layer": [
                {"mark": {"type": "point", "shape": "M-1,-0.185L1,-0.185L1,0.185L-1,0.185Z", "size": 112225, "filled": true, "fill": "white", "stroke": "#8c8c8c", "strokeWidth": 5, "opacity": 1},
                 "encoding": {"x": {"field": "N", "type": "quantitative"}, "y": {"field": "f", "type": "quantitative"}}},
                {"mark": {"type": "text", "font": "Open Sans", "fontSize": 33, "color": "#333333", "align": "center", "baseline": "middle"},
                 "encoding": {"x": {"field": "N", "type": "quantitative"}, "y": {"field": "f", "type": "quantitative"}, "text": {"field": "label"}}}
              ]
            },
            {
              "data": {"values": [{}]},
              "mark": {"type": "rect", "fill": "transparent", "stroke": "#2e2e2e", "strokeWidth": 5},
              "encoding": {"x": {"datum": 400}, "x2": {"datum": 1600}, "y": {"datum": 0.025}, "y2": {"datum": 0.2}}
            },
            {
              "data": {"values": [{"N": 1600, "f": 0.025, "F": 1.32146}]},
              "mark": {"type": "point", "shape": "circle", "size": 200, "filled": true, "color": "#8a8a8a", "opacity": 1},
              "encoding": {"x": {"field": "N", "type": "quantitative"}, "y": {"field": "f", "type": "quantitative"}}
            }
          ]
        }
      ]
    }
  ]
}
